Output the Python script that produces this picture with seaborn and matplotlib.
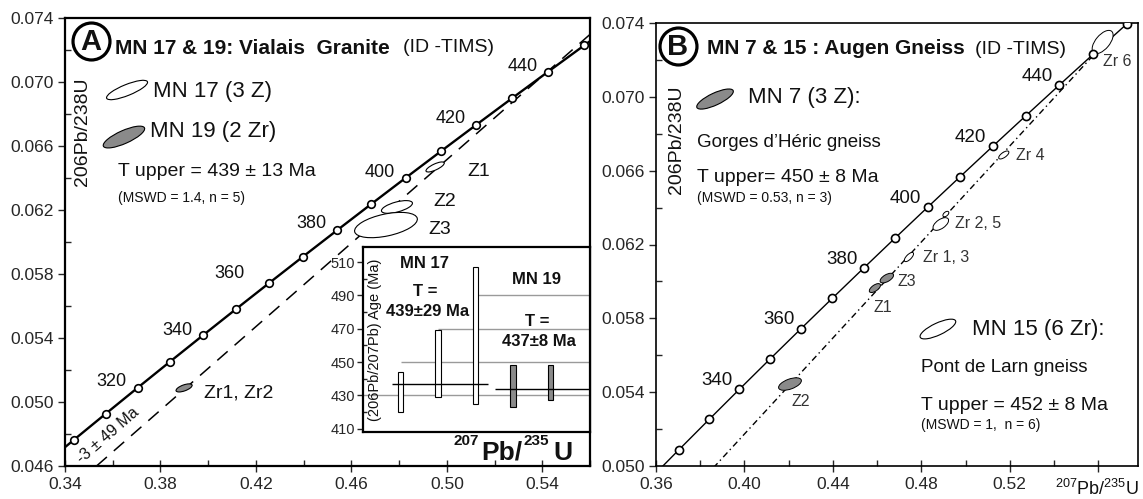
import numpy as np
import matplotlib
matplotlib.use("Agg")
import matplotlib.pyplot as plt
import seaborn as sns
from matplotlib.patches import Ellipse
from matplotlib.lines import Line2D
from matplotlib.transforms import ScaledTranslation
from matplotlib.ticker import FixedLocator, MultipleLocator, FuncFormatter

W, H = 1143, 499

# concordia, one point every 10 Ma
conc_age = [290, 300, 310, 320, 330, 340, 350, 360, 370, 380,
            390, 400, 410, 420, 430, 440, 450, 460, 470]
conc_x = [0.33057, 0.34374, 0.35704, 0.37047, 0.38403, 0.39773, 0.41156, 0.42553, 0.43964, 0.45389,
          0.46828, 0.48281, 0.49749, 0.51231, 0.52728, 0.54239, 0.55766, 0.57307, 0.58862]
conc_y = [0.046013, 0.047637, 0.049263, 0.050893, 0.052524, 0.054158, 0.055795, 0.057433, 0.059075, 0.060719,
          0.062366, 0.064015, 0.065667, 0.067321, 0.068978, 0.070637, 0.072299, 0.073964, 0.075632]

# panel A: MN 17 & 19
a_marker_ages = [300, 310, 320, 330, 340, 350, 360, 370, 380, 390, 400, 410, 420, 430, 440, 450]
a_label_ages = [320, 340, 360, 380, 400, 420, 440]
a_ell_names = ["Z1", "Z2", "Z3", "Zr1, Zr2"]
a_ell_x = [0.4951, 0.4791, 0.4745, 0.3899]
a_ell_y = [0.06469, 0.06219, 0.06106, 0.05088]
a_ell_fill = [False, False, False, True]
a_disc_x = [-0.0030, 0.5408]   # lower (-3 Ma) and upper (439 Ma) intercepts
a_disc_y = [-0.00047, 0.07047]
a_xticks = [0.34, 0.38, 0.42, 0.46, 0.50, 0.54]
a_yticks = [0.046, 0.050, 0.054, 0.058, 0.062, 0.066, 0.070, 0.074]

# panel B: MN 7 & 15
b_marker_ages = [320, 330, 340, 350, 360, 370, 380, 390, 400, 410, 420, 430, 440, 450, 460]
b_label_ages = [340, 360, 380, 400, 420, 440]
b_ell_names = ["Zr 6", "Zr 4", "Zr 2, 5", "", "Zr 1, 3", "Z3", "Z1", "Z2"]
b_ell_x = [0.5620, 0.5173, 0.4888, 0.4911, 0.4744, 0.4644, 0.4590, 0.4206]
b_ell_y = [0.07297, 0.06685, 0.06311, 0.06365, 0.06132, 0.06018, 0.05964, 0.05444]
b_ell_fill = [False, False, False, False, False, True, True, True]
b_disc_x = [0.0022, 0.5607]
b_disc_y = [0.0, 0.07263]
b_xticks = [0.36, 0.40, 0.44, 0.48, 0.52, 0.56]
b_xlabels = ["0.36", "0.40", "0.44", "0.48", "0.52", ""]
b_yticks = [0.050, 0.054, 0.058, 0.062, 0.066, 0.070, 0.074]

# inset: 206Pb/207Pb ages
ins_pos = [1, 2, 3, 4, 5]
ins_lo = [420, 429, 425, 423, 427]
ins_hi = [444, 469, 507, 448, 448]
ins_fill = [False, False, False, True, True]
ins_grid = [430, 450, 470, 490]
ins_mean = [437, 434]

GREY = "#8a8a8a"

sns.set_style("ticks")
plt.rcParams["font.family"] = ["Liberation Sans", "DejaVu Sans"]
plt.rcParams["mathtext.fontset"] = "custom"
plt.rcParams["mathtext.rm"] = "Liberation Sans"
plt.rcParams["text.color"] = "#111111"

fig = plt.figure(figsize=(W / 100, H / 100), dpi=100)
axA = fig.add_axes([65 / W, 1 - 466 / H, 525 / W, 448 / H])
axB = fig.add_axes([656 / W, 1 - 466 / H, 482 / W, 443 / H])


def put(x, y, s, **kw):
    kw.setdefault("va", "center")
    fig.text(x / W, 1 - y / H, s, **kw)


def ellipse(ax, x, y, w, h, ang, filled, lw=0.8):
    tr = fig.dpi_scale_trans + ScaledTranslation(x, y, ax.transData)
    ax.add_patch(Ellipse((0, 0), w / 100, h / 100, angle=ang, transform=tr,
                         fc=GREY if filled else "white", ec="k", lw=lw, zorder=4))


def frame(ax, xlim, ylim, xt, yt, lw, xlabels=None):
    ax.set_xlim(xlim)
    ax.set_ylim(ylim)
    ax.xaxis.set_major_locator(FixedLocator(xt))
    ax.yaxis.set_major_locator(FixedLocator(yt))
    ax.xaxis.set_minor_locator(MultipleLocator(0.02))
    ax.yaxis.set_minor_locator(MultipleLocator(0.002))
    if xlabels is None:
        xlabels = ["%.2f" % v for v in xt]
    ax.set_xticklabels(xlabels)
    ax.yaxis.set_major_formatter(FuncFormatter(lambda v, p: "%.3f" % v))
    for s in ax.spines.values():
        s.set_linewidth(lw)
        s.set_color("k")
    ax.tick_params(axis="x", which="major", direction="inout", length=8, width=1, labelsize=12.5, pad=4)
    ax.tick_params(axis="x", which="minor", direction="in", length=4, width=1)
    ax.tick_params(axis="y", which="major", direction="out", length=5, width=1, labelsize=12.5, pad=3)
    ax.tick_params(axis="y", which="minor", direction="in", length=4, width=1)
    ax.set_xlabel("")
    ax.set_ylabel("")


def concordia(ax, marker_ages, lw, ms):
    sns.lineplot(x=conc_x, y=conc_y, sort=False, estimator=None, color="k", lw=lw, ax=ax, zorder=3)
    mx = [conc_x[conc_age.index(a)] for a in marker_ages]
    my = [conc_y[conc_age.index(a)] for a in marker_ages]
    sns.scatterplot(x=mx, y=my, s=ms, color="white", edgecolor="k", linewidth=1.2, ax=ax, zorder=5)


# ---- panel A ----
concordia(axA, a_marker_ages, 1.7, 30)
axA.axline((a_disc_x[0], a_disc_y[0]), (a_disc_x[1], a_disc_y[1]), color="k", lw=1.1,
           dashes=(9, 6), zorder=2)
a_offsets = [(-26, -6), (-25, -5), (-40, -10), (-25, -7), (-26, -5), (-26, -6), (-25, -5)]
for age, (dx, dy) in zip(a_label_ages, a_offsets):
    i = conc_age.index(age)
    axA.annotate(str(age), (conc_x[i], conc_y[i]), xytext=(dx * 0.72, -dy * 0.72),
                 textcoords="offset points", ha="center", va="center", fontsize=13)
a_sizes = [(20, 6, 25), (32, 10, 15), (64, 22, 12), (17, 6, 20)]
for x, y, f, (w, h, g) in zip(a_ell_x, a_ell_y, a_ell_fill, a_sizes):
    ellipse(axA, x, y, w, h, g, f)
# legend ellipses
ellipse(axA, 0.3660, 0.0695, 44, 11, 22, False)
ellipse(axA, 0.3647, 0.06656, 45, 13, 24, True)
frame(axA, (0.34, 0.56), (0.046, 0.074), a_xticks, a_yticks, 1.6)

# ---- panel B ----
concordia(axB, b_marker_ages, 1.0, 34)
sns.lineplot(x=b_disc_x, y=b_disc_y, color="k", lw=1.0, ax=axB, zorder=2, dashes=False)
axB.lines[-1].set_dashes((4.5, 2.5, 1, 2.5))
for age in b_label_ages:
    i = conc_age.index(age)
    axB.annotate(str(age), (conc_x[i], conc_y[i]), xytext=(-22 * 0.72, 9 * 0.72),
                 textcoords="offset points", ha="center", va="center", fontsize=13.5)
b_sizes = [(28, 14, 50), (12, 5, 35), (18, 9, 35), (7, 4, 40), (12, 5, 45), (15, 7, 30), (13, 6, 35), (24, 10, 20)]
for x, y, f, (w, h, g) in zip(b_ell_x, b_ell_y, b_ell_fill, b_sizes):
    ellipse(axB, x, y, w, h, g, f, lw=0.7)
ellipse(axB, 0.3867, 0.06988, 40, 12, 25, True)
ellipse(axB, 0.4875, 0.05742, 39, 12, 25, False)
frame(axB, (0.36, 0.578), (0.050, 0.074), b_xticks, b_yticks, 1.2, b_xlabels)

# ---- inset ----
ins = fig.add_axes([363 / W, 1 - 432 / H, 227 / W, 185 / H])
ins.set_xlim(0, 6.05)
ins.set_ylim(408, 519)
for g, x0 in zip(ins_grid, [0, 1, 2, 3]):
    ins.hlines(g, x0, 6.05, color="#9a9a9a", lw=1.0, zorder=1)
ins.bar(ins_pos, np.array(ins_hi) - np.array(ins_lo), bottom=ins_lo, width=0.14,
        color=[GREY if f else "white" for f in ins_fill], edgecolor="k", lw=0.8, zorder=3)
ins.hlines(ins_mean[0], 0.77, 3.33, color="k", lw=1.0, zorder=4)
ins.hlines(ins_mean[1], 3.52, 6.05, color="k", lw=1.0, zorder=4)
ins.set_yticks([410, 430, 450, 470, 490, 510])
ins.yaxis.set_minor_locator(MultipleLocator(10))
ins.set_xticks([])
ins.tick_params(axis="y", which="major", direction="out", length=4, width=1, labelsize=10.5, pad=2)
ins.tick_params(axis="y", which="minor", direction="in", length=3, width=1)
for s in ins.spines.values():
    s.set_linewidth(1.6)
    s.set_color("k")
ins.text(0.053, 0.5, "(206Pb/207Pb) Age (Ma)", rotation=90, transform=ins.transAxes,
         ha="center", va="center", fontsize=10.5)

put(424, 263, "MN 17", ha="center", fontsize=12, fontweight="bold")
put(425, 292, "T =", ha="center", fontsize=12, fontweight="bold")
put(428, 311, "439±29 Ma", ha="center", fontsize=12, fontweight="bold")
put(537, 280, "MN 19", ha="center", fontsize=12, fontweight="bold")
put(537, 322, "T =", ha="center", fontsize=12, fontweight="bold")
put(539, 342, "437±8 Ma", ha="center", fontsize=12, fontweight="bold")
put(453, 441, "207", fontsize=11, fontweight="bold")
put(481, 453, "Pb/", fontsize=19, fontweight="bold")
put(523, 441, "235", fontsize=11, fontweight="bold")
put(553, 453, "U", fontsize=19, fontweight="bold")

# ---- circled letters and titles ----
for cx, cy, letter in [(91, 41, "A"), (678, 46, "B")]:
    fig.add_artist(Line2D([cx / W], [1 - cy / H], marker="o", ms=26.6, mfc="none", mec="k",
                          mew=2.3, transform=fig.transFigure))
    put(cx, cy + 1, letter, ha="center", fontsize=21, fontweight="bold")

put(115, 48, "MN 17 & 19: Vialais  Granite", fontsize=15, fontweight="bold")
put(403, 48, "(ID -TIMS)", fontsize=14)
put(707, 49, "MN 7 & 15 : Augen Gneiss", fontsize=15, fontweight="bold")
put(975, 49, "(ID -TIMS)", fontsize=14)

# panel A texts
put(153, 92, "MN 17 (3 Z)", fontsize=16)
put(150, 132, "MN 19 (2 Zr)", fontsize=16)
put(118, 172, "T upper = 439 ± 13 Ma", fontsize=14)
put(118, 198, "(MSWD = 1.4, n = 5)", fontsize=10)
put(83, 132, "206Pb/238U", rotation=90, ha="center", fontsize=14)
put(467, 172, "Z1", fontsize=14)
put(433, 202, "Z2", fontsize=14)
put(428, 230, "Z3", fontsize=14)
put(204, 393, "Zr1, Zr2", fontsize=14)
put(108, 435, "-3 ± 49 Ma", rotation=41, ha="center", fontsize=11.5)

# panel B texts
put(748, 98, "MN 7 (3 Z):", fontsize=16)
put(697, 142, "Gorges d\u2019Héric gneiss", fontsize=13.5)
put(697, 177, "T upper= 450 ± 8 Ma", fontsize=14)
put(697, 198, "(MSWD = 0.53, n = 3)", fontsize=10)
put(972, 330, "MN 15 (6 Zr):", fontsize=16)
put(921, 368, "Pont de Larn gneiss", fontsize=13.5)
put(921, 405, "T upper = 452 ± 8 Ma", fontsize=14)
put(921, 425, "(MSWD = 1,  n = 6)", fontsize=10)
put(677, 140, "206Pb/238U", rotation=90, ha="center", fontsize=14)
put(1055, 489, r"$^{207}$Pb/$^{235}$U", fontsize=13)
b_lab_px = [(1103, 62), (1016, 155), (955, 224), None, (923, 257), (897, 281), (873, 308), (792, 402)]
for name, p in zip(b_ell_names, b_lab_px):
    if p is not None and name:
        put(p[0], p[1], name, fontsize=11.5, color="#333333")

fig.savefig("out.png", dpi=100)
